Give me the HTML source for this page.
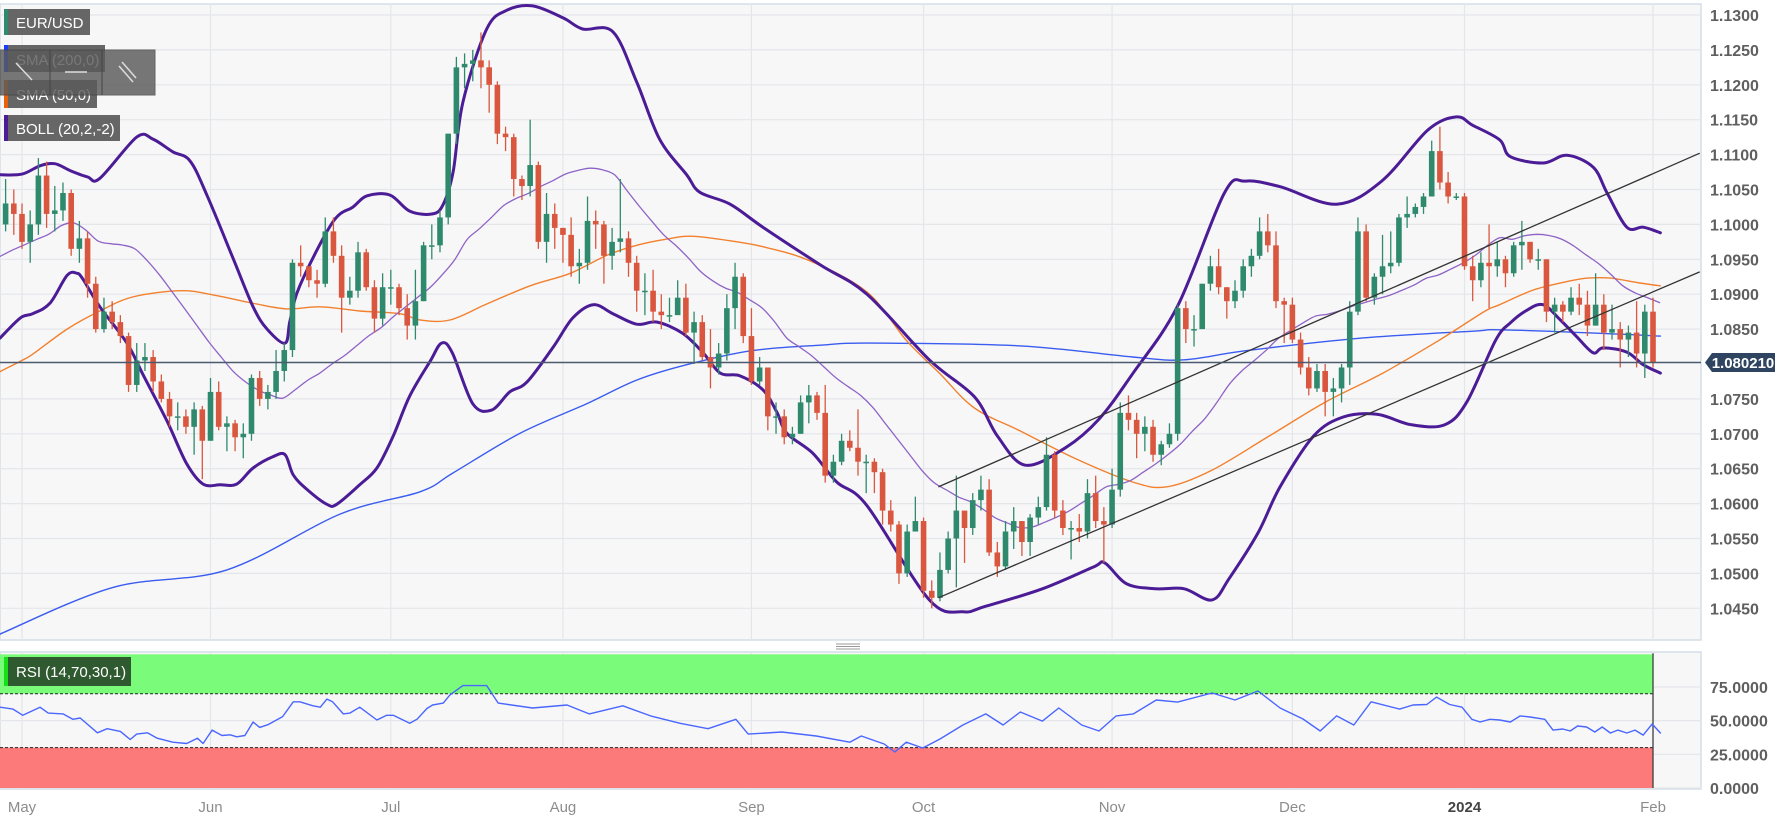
<!DOCTYPE html>
<html><head><meta charset="utf-8"><title>EUR/USD chart</title>
<style>
html,body{margin:0;padding:0;background:#fff;}
svg{display:block;font-family:"Liberation Sans",sans-serif;}
</style></head>
<body>
<svg id="chart" width="1777" height="816" viewBox="0 0 1777 816" xmlns="http://www.w3.org/2000/svg">
  <rect x="0" y="0" width="1777" height="816" fill="#ffffff"/>
  <rect x="0" y="4" width="1701" height="636" fill="#f7f7f7" stroke="#d6dde8" stroke-width="1.5"/>
  <rect x="0" y="652" width="1701" height="137" fill="#f7f7f7" stroke="#d6dde8" stroke-width="1.5"/>
  <g id="grid"></g>
  <g id="rsiZones"></g>
  <g id="indicators"></g>
  <g id="candles"></g>
  <g id="overlay"></g>
  <g id="axes"></g>
  <g>
    <line x1="836" y1="644" x2="860" y2="644" stroke="#999" stroke-width="1"/>
    <line x1="836" y1="646.5" x2="860" y2="646.5" stroke="#999" stroke-width="1"/>
    <line x1="836" y1="649" x2="860" y2="649" stroke="#999" stroke-width="1"/>
  </g>
  <g>
    <rect x="4" y="9" width="86" height="26" fill="#5e5e5e" opacity="0.95"/>
    <rect x="4" y="9" width="4" height="26" fill="#2e8b6e"/>
    <text x="16" y="28" font-size="15" fill="#fff">EUR/USD</text>
  </g>
  <g>
    <rect x="4" y="45" width="101" height="27" fill="#5e5e5e" opacity="0.95"/>
    <rect x="4" y="45" width="4" height="27" fill="#1a3cff"/>
    <text x="16" y="65" font-size="15" fill="#fff">SMA (200,0)</text>
  </g>
  <g>
    <rect x="4" y="80" width="93" height="28" fill="#5e5e5e" opacity="0.95"/>
    <rect x="4" y="80" width="4" height="28" fill="#e8620c"/>
    <text x="16" y="100" font-size="15" fill="#fff">SMA (50,0)</text>
  </g>
  <g>
    <rect x="0" y="50" width="155" height="45" fill="#5a5a5a" opacity="0.82" stroke="#444" stroke-width="1"/>
    <line x1="50" y1="50" x2="50" y2="95" stroke="#444"/>
    <line x1="102" y1="50" x2="102" y2="95" stroke="#444"/>
    <g><line x1="16" y1="63" x2="32" y2="80" stroke="#ddd" stroke-width="1.5"/></g>
    <g><line x1="65" y1="72" x2="87" y2="72" stroke="#ddd" stroke-width="1.5"/></g>
    <g><line x1="122" y1="62" x2="136" y2="78" stroke="#ddd" stroke-width="1.5"/><line x1="119" y1="66" x2="133" y2="82" stroke="#ddd" stroke-width="1.5"/></g>
  </g>
  <g>
    <rect x="4" y="115" width="116" height="26" fill="#5e5e5e" opacity="0.95"/>
    <rect x="4" y="115" width="4" height="26" fill="#4b1c96"/>
    <text x="16" y="134" font-size="15" fill="#fff">BOLL (20,2,-2)</text>
  </g>
  <g>
    <rect x="4" y="657" width="127" height="29" fill="#2f5a2f"/>
    <rect x="4" y="657" width="4" height="29" fill="#18e018"/>
    <text x="16" y="677" font-size="15" fill="#fff">RSI (14,70,30,1)</text>
  </g>
</svg>
<script>
const startIndex = -2;
const closes = [1.1030,1.1015,
1.0975,1.1000,1.1070,1.1015,1.1020, 1.1045,1.0965,1.0980,1.0915,1.0850, 1.0875,1.0860,1.0840,1.0770,1.0805, 1.0810,1.0775,1.0750,1.0725,1.0725,
1.0710,1.0735,1.0690,1.0760,1.0710, 1.0715,1.0695,1.0700,1.0780,1.0750, 1.0760,1.0790,1.0820,1.0945,1.0940, 1.0920,1.0915,1.0990,1.0955,1.0895,
1.0905,1.0960,1.0910,1.0865,1.0910, 1.0910,1.0880,1.0855,1.0890,1.0970, 1.0970,1.1010,1.1130,1.1225,1.1230, 1.1235,1.1225,1.1200,1.1130,1.1125,
1.1065,1.1055,1.1085,1.0975,1.1015, 1.0995,1.0985,1.0940,1.0945,1.1005, 1.1000,1.0955,1.0975,1.0980,1.0945, 1.0905,1.0905,1.0875,1.0870,1.0870,
1.0895,1.0845,1.0860,1.0810,1.0795, 1.0815,1.0880,1.0925,1.0840,1.0775, 1.0795,1.0725,1.0725,1.0695,1.0700, 1.0745,1.0755,1.0730,1.0640,1.0660,
1.0690,1.0680,1.0660,1.0660,1.0645, 1.0590,1.0570,1.0500,1.0560,1.0575, 1.0475,1.0465,1.0505,1.0550,1.0590, 1.0565,1.0605,1.0620,1.0530,1.0510,
1.0560,1.0575,1.0545,1.0580,1.0595, 1.0670,1.0590,1.0565,1.0565,1.0560, 1.0615,1.0575,1.0570,1.0620,1.0730, 1.0720,1.0700,1.0710,1.0670,1.0685,
1.0700,1.0880,1.0850,1.0850,1.0915, 1.0940,1.0910,1.0890,1.0905,1.0940, 1.0955,1.0990,1.0970,1.0890,1.0885, 1.0835,1.0795,1.0765,1.0790,1.0760,
1.0765,1.0795,1.0875,1.0990,1.0895, 1.0925,1.0940,1.0945,1.1010,1.1015, 1.1025,1.1040,1.1105,1.1060,1.1040, 1.1040,1.0940,1.0920,1.0945,1.0940,
1.0950,1.0930,1.0970,1.0975,1.0950, 1.0950,1.0875,1.0885,1.0875,1.0895, 1.0885,1.0855,1.0885,1.0845,1.0850, 1.0835,1.0845,1.0815,1.0875,1.0802];
const firstOpen = 1.1000;
const highs = [1.1065,1.1050,
1.1030,1.1020,1.1095,1.1090,1.1055, 1.1060,1.1050,1.1005,1.0990,1.0925, 1.0895,1.0890,1.0870,1.0845,1.0830, 1.0830,1.0820,1.0785,1.0760,1.0745,
1.0735,1.0745,1.0740,1.0780,1.0775, 1.0725,1.0720,1.0715,1.0785,1.0790, 1.0770,1.0820,1.0830,1.0950,1.0970, 1.0940,1.0935,1.1010,1.1010,1.0970,
1.0925,1.0975,1.0965,1.0920,1.0930, 1.0935,1.0915,1.0900,1.0935,1.0975, 1.1000,1.1020,1.1130,1.1240,1.1245, 1.1250,1.1275,1.1235,1.1205,1.1140,
1.1130,1.1070,1.1150,1.1090,1.1045, 1.1030,1.0995,1.1010,1.0965,1.1040, 1.1020,1.1005,1.0995,1.1065,1.0990, 1.0955,1.0930,1.0935,1.0900,1.0895,
1.0920,1.0915,1.0875,1.0870,1.0850, 1.0830,1.0900,1.0945,1.0930,1.0880, 1.0810,1.0795,1.0745,1.0735,1.0710, 1.0755,1.0770,1.0760,1.0770,1.0670,
1.0700,1.0705,1.0735,1.0670,1.0665, 1.0650,1.0605,1.0575,1.0570,1.0610, 1.0580,1.0490,1.0530,1.0560,1.0640, 1.0575,1.0615,1.0640,1.0635,1.0545,
1.0575,1.0595,1.0575,1.0585,1.0610, 1.0695,1.0675,1.0605,1.0575,1.0585, 1.0635,1.0640,1.0595,1.0650,1.0745, 1.0755,1.0730,1.0725,1.0720,1.0690,
1.0715,1.0885,1.0890,1.0870,1.0915, 1.0955,1.0965,1.0910,1.0920,1.0950, 1.0965,1.1010,1.1015,1.0990,1.0895, 1.0895,1.0845,1.0810,1.0800,1.0800,
1.0780,1.0800,1.0890,1.1010,1.1000, 1.0930,1.0985,1.0990,1.1015,1.1040, 1.1030,1.1045,1.1120,1.1140,1.1075, 1.1045,1.1045,1.0955,1.0960,1.1000,
1.0975,1.0955,1.0975,1.1005,1.0975, 1.0965,1.0950,1.0895,1.0890,1.0910, 1.0915,1.0905,1.0930,1.0900,1.0885, 1.0860,1.0855,1.0890,1.0885,1.0895];
const lows = [1.0990,1.0985,
1.0965,1.0945,1.0985,1.0995,1.0990, 1.1005,1.0955,1.0945,1.0895,1.0845, 1.0845,1.0850,1.0830,1.0760,1.0760, 1.0790,1.0760,1.0745,1.0710,1.0705,
1.0700,1.0670,1.0635,1.0690,1.0705, 1.0675,1.0675,1.0665,1.0690,1.0740, 1.0735,1.0750,1.0775,1.0810,1.0925, 1.0910,1.0895,1.0910,1.0945,1.0845,
1.0885,1.0895,1.0905,1.0845,1.0855, 1.0885,1.0870,1.0835,1.0835,1.0890, 1.0950,1.0960,1.1000,1.1115,1.1195, 1.1205,1.1195,1.1160,1.1115,1.1105,
1.1040,1.1035,1.1040,1.0965,1.0945, 1.0965,1.0945,1.0925,1.0915,1.0935, 1.0965,1.0915,1.0935,1.0960,1.0925, 1.0875,1.0870,1.0860,1.0850,1.0860,
1.0875,1.0840,1.0800,1.0805,1.0765, 1.0785,1.0805,1.0850,1.0830,1.0770, 1.0770,1.0705,1.0700,1.0685,1.0685, 1.0700,1.0715,1.0720,1.0630,1.0630,
1.0655,1.0675,1.0640,1.0615,1.0615, 1.0570,1.0560,1.0485,1.0495,1.0560, 1.0465,1.0450,1.0460,1.0500,1.0480, 1.0515,1.0555,1.0590,1.0525,1.0495,
1.0505,1.0535,1.0525,1.0525,1.0570, 1.0590,1.0580,1.0555,1.0520,1.0545, 1.0550,1.0565,1.0515,1.0565,1.0610, 1.0705,1.0665,1.0675,1.0660,1.0655,
1.0680,1.0690,1.0830,1.0825,1.0850, 1.0905,1.0900,1.0865,1.0880,1.0895, 1.0925,1.0950,1.0960,1.0880,1.0830, 1.0830,1.0785,1.0755,1.0760,1.0725,
1.0725,1.0745,1.0770,1.0870,1.0890, 1.0885,1.0900,1.0930,1.0940,1.0995, 1.1010,1.1015,1.1040,1.1050,1.1030, 1.1035,1.0935,1.0890,1.0910,1.0880,
1.0925,1.0910,1.0925,1.0935,1.0945, 1.0935,1.0860,1.0845,1.0860,1.0870, 1.0870,1.0840,1.0855,1.0820,1.0835, 1.0795,1.0810,1.0795,1.0780,1.0795];

const bollUpper = [[-2.7,1.1071],[0,1.1072],[2.2,1.1084],[4,1.1087],[5.9,1.1077],[8,1.1068],[9.5,1.1066],[14,1.1125],[16,1.1122],[18.4,1.1104],[20.5,1.1091],[22.6,1.1041],[25.7,1.0953],[28.2,1.0882],[29.9,1.0850],[32.1,1.0830],[32.7,1.0862],[33.9,1.0912],[37.9,1.1003],[40.4,1.1025],[42.1,1.1041],[44.9,1.1042],[47.3,1.1019],[50.1,1.1015],[51.4,1.1029],[52.6,1.1075],[53.8,1.1175],[56.7,1.1280],[59.2,1.1307],[62.3,1.1313],[66,1.1296],[68.4,1.1280],[72.1,1.1276],[75,1.1204],[77.8,1.1122],[81.1,1.1071],[82.7,1.1046],[86.4,1.1029],[90.4,1.0996],[97.4,1.0942],[103.1,1.0900],[110.7,1.0806],[116.2,1.0753],[119,1.0697],[122.4,1.0655],[127.3,1.0680],[131.4,1.0721],[135.5,1.0786],[141,1.0883],[146.7,1.1045],[149.3,1.1062],[153.5,1.1054],[160.4,1.1029],[165.9,1.1062],[171.5,1.1135],[175,1.1154],[177,1.1142],[180.3,1.1121],[181.6,1.1097],[185.6,1.1088],[188.5,1.1099],[191.7,1.1082],[193.4,1.1045],[195.8,1.0996],[197.8,1.0996],[199.9,1.0988]];
const bollLower = [[-2.7,1.0837],[-0.2,1.0866],[1.3,1.0872],[3.4,1.0887],[5.5,1.0927],[6.7,1.0930],[7.4,1.0922],[9.5,1.0882],[12.8,1.0830],[14.8,1.0784],[17.7,1.0718],[20.1,1.0657],[22.1,1.0628],[24.2,1.0627],[26.2,1.0628],[28.2,1.0651],[30.6,1.0667],[32.1,1.0670],[33.1,1.0641],[34.8,1.0620],[37.2,1.0599],[38.4,1.0599],[41.2,1.0627],[43.3,1.0651],[45.3,1.0697],[47.3,1.0754],[49.8,1.0804],[51.2,1.0830],[52.5,1.0816],[55,1.0743],[57.3,1.0734],[59.5,1.0760],[61.6,1.0774],[64.8,1.0824],[67.2,1.0866],[69.7,1.0885],[72.1,1.0872],[75,1.0857],[77.5,1.0860],[80.6,1.0844],[83.1,1.0816],[85.2,1.0787],[87.6,1.0783],[90.4,1.0763],[92.1,1.0731],[93.3,1.0701],[96.5,1.0672],[99.4,1.0631],[103.1,1.0597],[110.7,1.0462],[114.8,1.0445],[117.6,1.0453],[124.5,1.0478],[130.7,1.0509],[132.1,1.0515],[134.8,1.0485],[138.4,1.0478],[141.8,1.0478],[145.2,1.0462],[147.3,1.0493],[150.8,1.0558],[153.5,1.0624],[157.6,1.0697],[161.2,1.0724],[165.3,1.0728],[169.5,1.0713],[173.6,1.0713],[176.3,1.0746],[179.8,1.0834],[181.6,1.0859],[183.6,1.0877],[185.6,1.0885],[187.7,1.0863],[189.7,1.0839],[191.7,1.0816],[192.9,1.0823],[195.8,1.0817],[197.8,1.0799],[199.9,1.0787]];
const sma50 = [[-2.7,1.0789],[-0.2,1.0804],[1.3,1.0814],[5.5,1.0850],[9.5,1.0876],[13.5,1.0896],[19.3,1.0905],[23.3,1.0899],[28.2,1.0887],[32.3,1.0879],[36.4,1.0882],[41.2,1.0876],[46.1,1.0872],[48.6,1.0863],[52.2,1.0863],[56.7,1.0886],[62,1.0912],[66.9,1.0930],[71.4,1.0956],[75,1.0970],[78.7,1.0979],[81.9,1.0983],[87.2,1.0975],[90.4,1.0968],[96.1,1.0948],[103.1,1.0903],[107.9,1.0834],[112,1.0786],[116.2,1.0737],[121.8,1.0704],[128.6,1.0664],[135.5,1.0631],[139.7,1.0624],[145.2,1.0648],[152.2,1.0697],[159.1,1.0746],[165.9,1.0786],[172.9,1.0834],[178.4,1.0875],[180.3,1.0885],[184.4,1.0906],[188.5,1.0918],[191,1.0923],[193.8,1.0923],[197.4,1.0916],[199.9,1.0912]];
const sma200 = [[-2.7,1.0413],[11.1,1.0480],[25,1.0505],[38.8,1.0585],[48.6,1.0617],[52.6,1.0644],[60.8,1.0701],[68.9,1.0743],[75,1.0777],[81.1,1.0799],[89,1.0819],[97.4,1.0827],[103.4,1.0830],[121.8,1.0826],[135.5,1.0810],[141.8,1.0806],[149.3,1.0819],[163.3,1.0837],[177,1.0847],[180.3,1.0849],[192.5,1.0844],[199.9,1.0840]];
const channelUpper = [[111.8,1.0624],[204.7,1.1102]];
const channelLower = [[111.8,1.0465],[204.7,1.0932]];
const lastPrice = 1.080210;
const rsi = [[-2.7,60],[-1.1,58.6],[0.1,54],[2.2,60],[3.2,55.6],[5,55],[6.2,51],[7.1,52],[9.2,41],[10.4,44],[12,42],[13.2,36],[14,40],[15.3,41],[16.5,37],[18.4,34],[20.1,33],[21.4,37],[22.1,33],[23.2,43],[24.4,39],[25.4,39.5],[26.2,38],[27.2,39],[28.2,49],[29,45],[30,47],[31.8,53],[33.1,64],[33.9,64],[35.5,61],[36.4,60],[37.2,66],[37.9,64],[39.2,55],[40,55.6],[41.2,60],[43.3,50.5],[44.5,54],[45.3,54],[47.3,48],[48.2,51],[49.4,59],[50.1,61.6],[51.4,63],[52.2,69],[53.8,76],[56.7,76],[58.1,63],[62.3,59.4],[66.5,61.6],[69.2,55],[73.3,61],[76.7,53.5],[80.3,48],[83.7,44],[87.1,51],[88.6,40],[92.7,41.6],[96.9,38.6],[101,34],[102.4,38.6],[105.2,32.7],[106.5,26.7],[107.9,34],[109.9,29.7],[112,36.4],[114.8,46.8],[117.6,55],[119.7,46.8],[121.8,56.4],[124.5,49.7],[126.5,59.4],[129.3,46.8],[131.4,42.3],[133.5,53.5],[135.6,55],[138.4,65.3],[141,63.8],[145.2,70.5],[148,65.3],[150.8,72],[153.5,59.4],[156.3,51.2],[158.4,42.3],[160.4,53.5],[162.5,46.8],[164.6,64],[168.1,58.6],[169.7,61.6],[171.4,62],[172.6,67.5],[174.2,62],[175.7,60],[176.9,51],[177.9,49],[179.1,51],[180.3,50.5],[181.6,49],[182.8,53.5],[184,52.7],[185.8,51],[186.8,43],[188,43.8],[188.9,42.3],[189.8,46],[190.9,45.3],[191.9,41.6],[192.8,45.3],[193.8,40.8],[194.7,43],[195.8,40.8],[196.8,43],[197.8,39.3],[198.9,47.5],[199.9,40.8]];
const priceTicks = [1.1300,1.1250,1.1200,1.1150,1.1100,1.1050,1.1000,1.0950,1.0900,1.0850,1.0800,1.0750,1.0700,1.0650,1.0600,1.0550,1.0500,1.0450];
const rsiTicks = [0,25,50,75];
const monthLabels = ["May","Jun","Jul","Aug","Sep","Oct","Nov","Dec","2024","Feb"];
const monthIndex = [0,23,45,66,89,110,133,155,176,199];
const rsiUpperLevel = 70, rsiLowerLevel = 30;

const NS = "http://www.w3.org/2000/svg";
const X0 = 22, DX = 8.196;
function xOf(i){ return X0 + i*DX; }
const P_TOP = 1.13, Y_TOP = 15, PX_PER_UNIT = 6980;
function yOf(p){ return Y_TOP + (P_TOP - p)*PX_PER_UNIT; }
const R_Y0 = 788, R_SCALE = 1.347;
function yR(v){ return R_Y0 - v*R_SCALE; }
function mk(tag, attrs, parent){ const e=document.createElementNS(NS,tag); for(const k in attrs) e.setAttribute(k,attrs[k]); parent.appendChild(e); return e; }

const grid = document.getElementById('grid');
const axes = document.getElementById('axes');
priceTicks.forEach(p=>{
  const y=yOf(p);
  if(Math.abs(p-lastPrice)>0.0015){
    const l=mk('line',{x1:0,x2:1701,y1:y,y2:y,stroke:'#e4e6ea','stroke-width':1.2},grid);
    
    
    const t=mk('text',{x:1710,y:y+6,'font-size':16,fill:'#5f5f5f','font-weight':'bold'},axes);
    t.textContent=p.toFixed(4);
    
    
  }
});
rsiTicks.forEach(v=>{
  const y=yR(v);
  const l=mk('line',{x1:0,x2:1701,y1:y,y2:y,stroke:'#e4e6ea','stroke-width':1.2},grid);
  
  
  const t=mk('text',{x:1710,y:y+6,'font-size':16,fill:'#5f5f5f','font-weight':'bold'},axes);
  t.textContent=v.toFixed(4);
  
  
});
monthIndex.forEach((mi,k)=>{
  const x=xOf(mi);
  const l1=mk('line',{x1:x,x2:x,y1:4,y2:640,stroke:'#e4e6ea','stroke-width':1.2},grid);
  
  
  const l2=mk('line',{x1:x,x2:x,y1:652,y2:789,stroke:'#e4e6ea','stroke-width':1.2},grid);
  
  
  const isYear = monthLabels[k]==="2024";
  const t=mk('text',{x:x,y:812,'font-size':15,'text-anchor':'middle',fill:isYear?'#444':'#8c8c8c','font-weight':isYear?'bold':'normal'},axes);
  t.textContent=monthLabels[k];
  
  
});

const zones = document.getElementById('rsiZones');
const zx1 = xOf(closes.length-1+startIndex);
let z=mk('rect',{x:0,y:yR(100)+1,width:zx1,height:yR(rsiUpperLevel)-yR(100)-1,fill:'#7afc7a'},zones);


z=mk('rect',{x:0,y:yR(rsiLowerLevel),width:zx1,height:yR(0)-yR(rsiLowerLevel),fill:'#fc7a7a'},zones);


[rsiUpperLevel,rsiLowerLevel].forEach(v=>{
  const l=mk('line',{x1:0,x2:zx1,y1:yR(v),y2:yR(v),stroke:'#222','stroke-width':1,'stroke-dasharray':'3,2'},zones);
  
  
});
z=mk('line',{x1:zx1,x2:zx1,y1:yR(100),y2:yR(0),stroke:'#333','stroke-width':1.2},zones);



const ind = document.getElementById('indicators');
function smoothPath(pts){
  let d='M'+pts[0][0].toFixed(1)+','+pts[0][1].toFixed(1);
  for(let k=0;k<pts.length-1;k++){
    const p0=pts[k-1]||pts[k], p1=pts[k], p2=pts[k+1], p3=pts[k+2]||p2;
    const c1x=p1[0]+(p2[0]-p0[0])/6, c1y=p1[1]+(p2[1]-p0[1])/6;
    const c2x=p2[0]-(p3[0]-p1[0])/6, c2y=p2[1]-(p3[1]-p1[1])/6;
    d+=` C${c1x.toFixed(1)},${c1y.toFixed(1)} ${c2x.toFixed(1)},${c2y.toFixed(1)} ${p2[0].toFixed(1)},${p2[1].toFixed(1)}`;
  }
  return d;
}
function line(pts, yfn, color, w, name, smooth){
  const sp=pts.map(p=>[xOf(p[0]),yfn(p[1])]);
  const d= smooth ? smoothPath(sp) : sp.map((p,k)=>(k?'L':'M')+p[0].toFixed(1)+','+p[1].toFixed(1)).join(' ');
  const e=mk('path',{d:d,fill:'none',stroke:color,'stroke-width':w,'stroke-linejoin':'round','stroke-linecap':'round'},ind);
  
  
}
function interp(arr,i){
  if(i<=arr[0][0]) return arr[0][1];
  for(let k=1;k<arr.length;k++){ if(i<=arr[k][0]){ const a=arr[k-1],b=arr[k]; return a[1]+(b[1]-a[1])*(i-a[0])/(b[0]-a[0]); } }
  return arr[arr.length-1][1];
}
const mid=[];
for(let i=-2.7;i<=199.9;i+=1.5){ mid.push([i,(interp(bollUpper,i)+interp(bollLower,i))/2]); }
line(sma200,yOf,'#3a5cf0',1.4,'sma200-line',true);
line(sma50,yOf,'#f2802e',1.4,'sma50-line',true);
line(mid,yOf,'#8e63c6',1.3,'bollinger-middle-line',true);
line(bollUpper,yOf,'#4b1c96',3,'bollinger-upper-band',true);
line(bollLower,yOf,'#4b1c96',3,'bollinger-lower-band',true);
line(rsi,yR,'#4a66ff',1.4,'rsi-line',false);

const cg=document.getElementById('candles');
closes.forEach((c,k)=>{
  const i=k+startIndex;
  const o = k===0 ? firstOpen : closes[k-1];
  const up = c>=o;
  const col = up ? '#2f8a6d' : '#d9573f';
  const x=xOf(i);
  const g=mk('g',{},cg);
  
  
  mk('line',{x1:x,x2:x,y1:yOf(highs[k]),y2:yOf(lows[k]),stroke:col,'stroke-width':1.3},g);
  const yt=yOf(Math.max(o,c)), yb=yOf(Math.min(o,c));
  mk('rect',{x:x-2.8,y:yt,width:5.6,height:Math.max(1.5,yb-yt),fill:col},g);
});

const ov=document.getElementById('overlay');
[channelUpper,channelLower].forEach((ch,k)=>{
  const l=mk('line',{x1:xOf(ch[0][0]),y1:yOf(ch[0][1]),x2:xOf(ch[1][0]),y2:yOf(ch[1][1]),stroke:'#333','stroke-width':1.3},ov);
  
  
});
const ly=yOf(lastPrice);
let e=mk('line',{x1:0,x2:1701,y1:ly,y2:ly,stroke:'#4a5b70','stroke-width':1.5},ov);


const lab=mk('g',{},axes);


mk('path',{d:`M1705,${ly} L1712,${ly-9.5} L1775,${ly-9.5} L1775,${ly+9.5} L1712,${ly+9.5} Z`,fill:'#2f4460'},lab);
const lt=mk('text',{x:1743,y:ly+5.5,'font-size':15,'font-weight':'bold',fill:'#fff','text-anchor':'middle'},lab);
lt.textContent=lastPrice.toFixed(6);
</script>
</body></html>
